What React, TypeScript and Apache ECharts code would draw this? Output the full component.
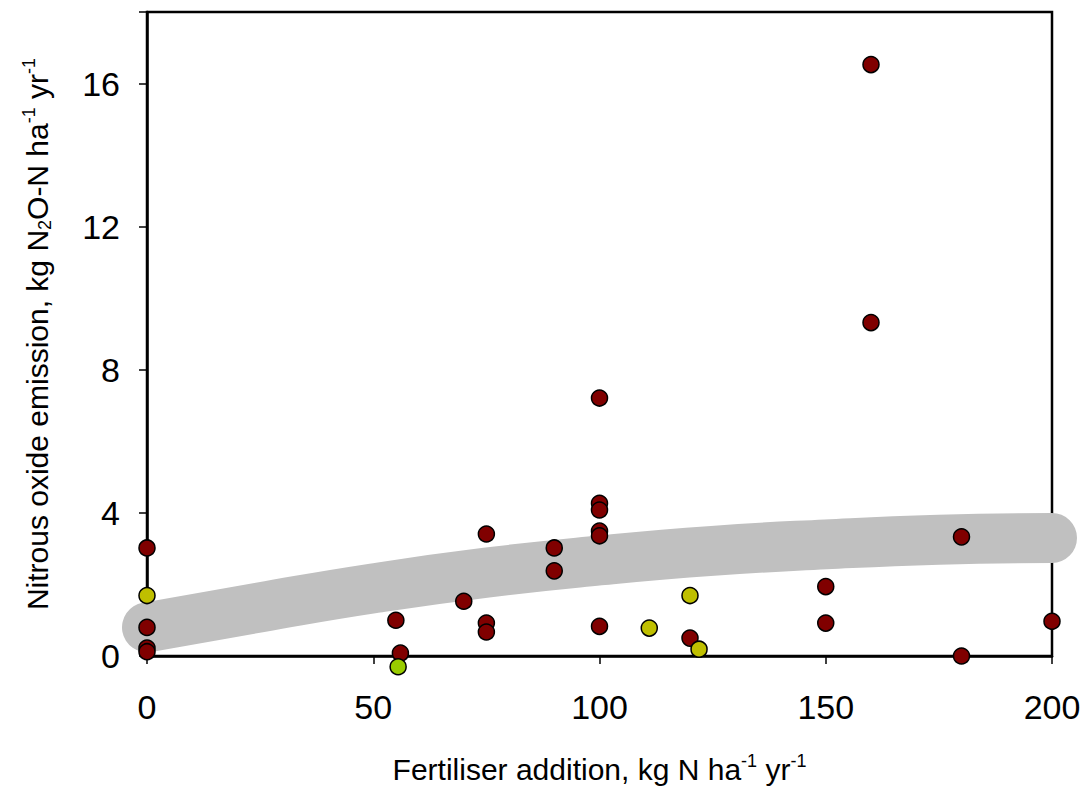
import React, { useEffect, useRef } from "react";
import * as echarts from "echarts";

// Fertiliser addition (kg N/ha/yr) vs N2O emission (kg N2O-N/ha/yr)
const redX = [0, 0, 0, 0, 55, 56, 70, 75, 75, 75, 90, 90, 100, 100, 100, 100, 100, 100, 120, 150, 150, 160, 160, 180, 180, 200];
const redY = [3.02, 0.8, 0.22, 0.12, 1.0, 0.08, 1.53, 3.41, 0.92, 0.67, 3.02, 2.38, 7.21, 4.27, 4.08, 3.49, 3.36, 0.83, 0.5, 1.94, 0.92, 16.53, 9.32, 3.33, 0.0, 0.97];

const oliveX = [0, 111, 120, 122];
const oliveY = [1.69, 0.78, 1.69, 0.19];

const greenX = [55.5];
const greenY = [-0.3];

// fitted response curve
const fitX = [0, 25, 50, 75, 100, 125, 150, 175, 200];
const fitY = [0.8, 1.36, 1.89, 2.33, 2.67, 2.94, 3.12, 3.25, 3.3];

const xTicks = [0, 50, 100, 150, 200];
const yTicks = [0, 4, 8, 12, 16];

const zip = (xs: number[], ys: number[]) => xs.map((x, i) => [x, ys[i]]);

export default function App() {
  const ref = useRef<HTMLDivElement>(null);
  useEffect(() => {
    if (!ref.current) return;
    const chart = echarts.init(ref.current, undefined, { renderer: "svg" });
    const font = "Liberation Sans, Arial, sans-serif";
    const markerStyle = (c: string) => ({ color: c, borderColor: "#000", borderWidth: 1.5, opacity: 1 });
    const titleRich = {
      n: { fontSize: 30, fontFamily: font, color: "#000", lineHeight: 34 },
      s: { fontSize: 18, fontFamily: font, color: "#000", lineHeight: 18, verticalAlign: "top" },
      b: { fontSize: 18, fontFamily: font, color: "#000", lineHeight: 18, verticalAlign: "bottom" },
    };
    chart.setOption({
      animation: false,
      backgroundColor: "#fff",
      grid: {
        left: 147,
        right: 33,
        top: 12,
        bottom: 128,
        show: true,
        borderColor: "#000",
        borderWidth: 2.5,
        backgroundColor: "transparent",
      },
      xAxis: {
        type: "value",
        min: xTicks[0],
        max: xTicks[xTicks.length - 1],
        interval: 50,
        splitLine: { show: false },
        axisLine: { show: true, onZero: false, lineStyle: { color: "#000", width: 2.5 } },
        axisTick: { show: true, length: 8, lineStyle: { color: "#000", width: 1.5 } },
        axisLabel: { color: "#000", fontSize: 34, fontFamily: font, margin: 34 },
        name: "{n|Fertiliser addition, kg N ha}{s|-1}{n| yr}{s|-1}",
        nameLocation: "middle",
        nameGap: 96,
        nameTextStyle: { rich: titleRich },
      },
      yAxis: {
        type: "value",
        min: yTicks[0],
        max: 18,
        interval: 4,
        splitLine: { show: false },
        axisLine: { show: true, onZero: false, lineStyle: { color: "#000", width: 2.5 } },
        axisTick: { show: true, length: 8, lineStyle: { color: "#000", width: 1.5 } },
        axisLabel: {
          color: "#000",
          fontSize: 34,
          fontFamily: font,
          margin: 27,
          formatter: (v: number) => (yTicks.includes(v) ? String(v) : ""),
        },
        name: "{n|Nitrous oxide emission, kg N}{b|2}{n|O-N ha}{s|-1}{n| yr}{s|-1}",
        nameLocation: "middle",
        nameRotate: 90,
        nameGap: 93,
        nameTextStyle: { rich: titleRich },
      },
      series: [
        {
          type: "line",
          data: zip(fitX, fitY),
          smooth: true,
          showSymbol: false,
          symbol: "none",
          clip: false,
          z: 2,
          lineStyle: { color: "#C0C0C0", width: 50, cap: "round", join: "round" },
        },
        {
          type: "scatter",
          data: zip(redX, redY),
          symbolSize: 16,
          clip: false,
          z: 4,
          itemStyle: markerStyle("#800000"),
        },
        {
          type: "scatter",
          data: zip(oliveX, oliveY),
          symbolSize: 16,
          clip: false,
          z: 4,
          itemStyle: markerStyle("#BFBF00"),
        },
        {
          type: "scatter",
          data: zip(greenX, greenY),
          symbolSize: 16,
          clip: false,
          z: 4,
          itemStyle: markerStyle("#99CC00"),
        },
      ],
    });
    return () => chart.dispose();
  }, []);
  return (
    <div
      ref={ref}
      style={{ position: "absolute", left: 0, top: 0, width: 1085, height: 789, background: "#fff" }}
    />
  );
}
